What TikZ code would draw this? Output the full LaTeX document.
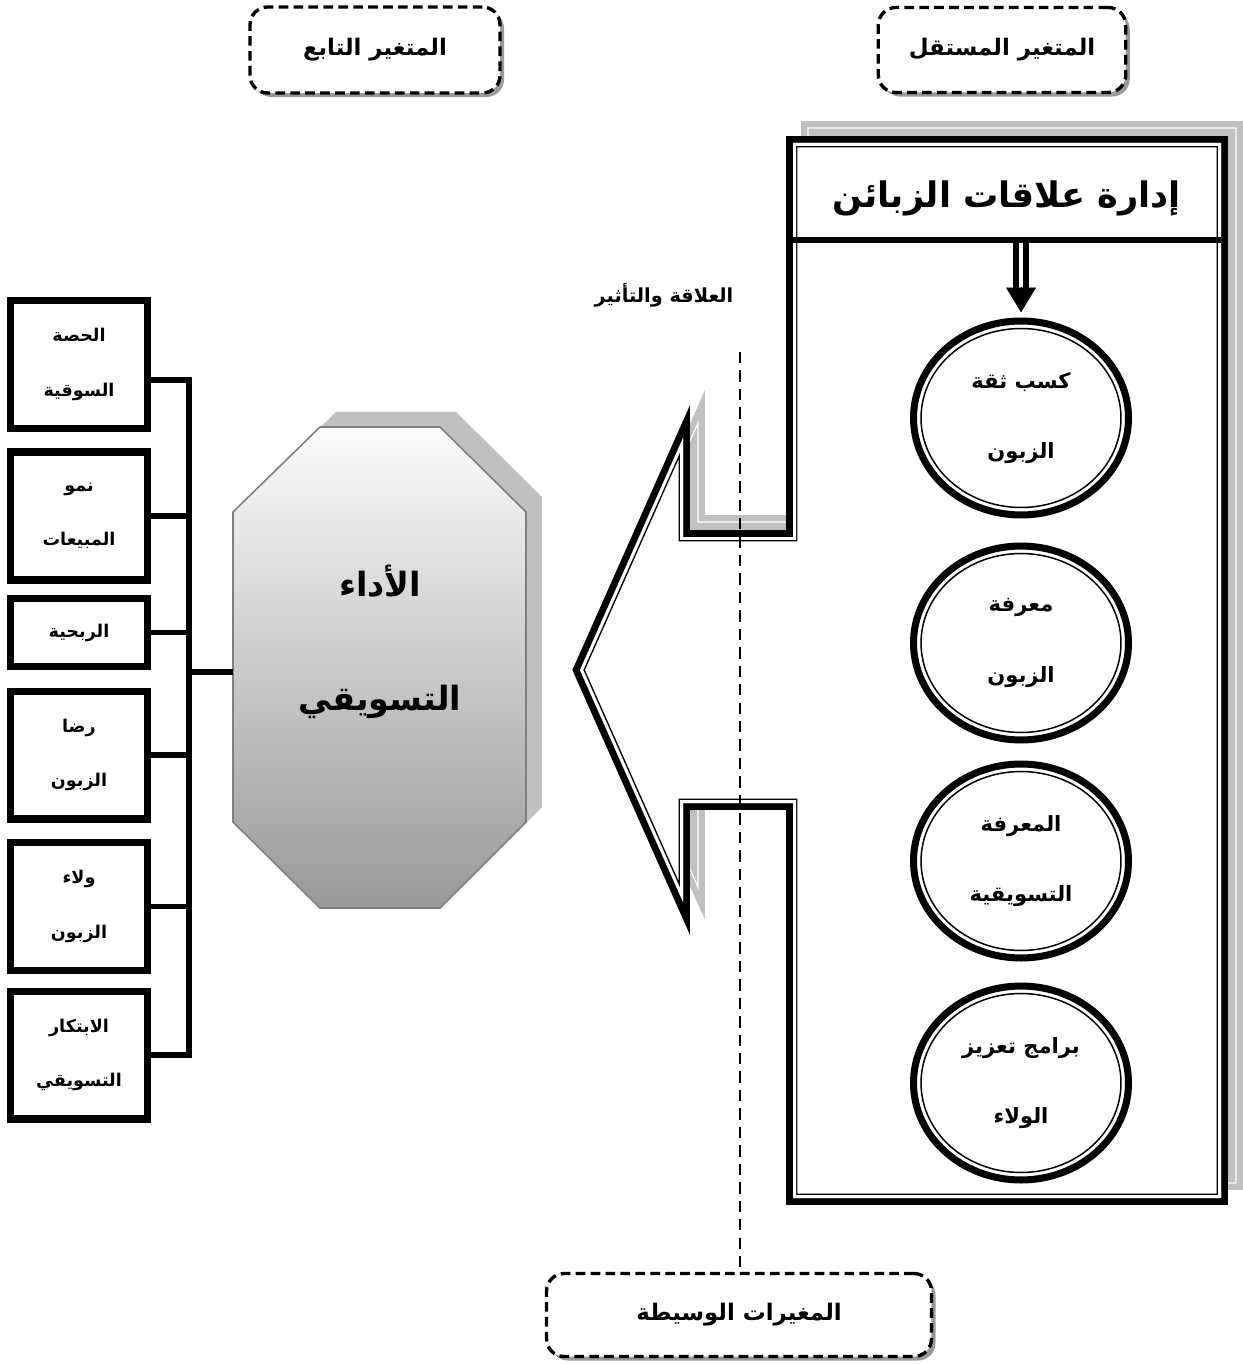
\documentclass[tikz,border=0pt]{standalone}
\usepackage{fontspec}
\newfontfamily\arabicfont[Script=Arabic]{DejaVu Sans}
\TeXXeTstate=1
\newcommand{\artxt}[1]{\beginR#1\endR}
\definecolor{shadowgray}{HTML}{C0C0C0}
\definecolor{octtop}{HTML}{FBFBFB}
\definecolor{octbot}{HTML}{999999}
\definecolor{octline}{HTML}{7F7F7F}
\usetikzlibrary{shapes.geometric, shadows, arrows.meta, calc}

% outline of the independent-variable frame (arrow pointing left)
\def\crmframe{(793,143) -- (1221,143) -- (1221,1198) -- (793,1198) -- (793,803) -- (683,803) -- (683,902) -- (580,670) -- (683,438) -- (683,537) -- (793,537) -- cycle}
\def\octagon{(320,427) -- (440,427) -- (526,512) -- (526,822) -- (440,908) -- (320,908) -- (233,822) -- (233,512) -- cycle}

\begin{document}
\begin{tikzpicture}[x=0.02cm, y=-0.02cm,
  varbox/.style={draw, line width=1.9pt, dash pattern=on 5.5pt off 3pt, rounded corners=10pt,
                 fill=white, drop shadow={shadow xshift=2.3pt, shadow yshift=-2.3pt, fill=black!40, opacity=1},
                 align=center, font=\arabicfont\bfseries\fontsize{13}{16}\selectfont},
  dimbox/.style={draw, line width=4pt, minimum width=2.74cm, align=center,
                 font=\arabicfont\bfseries\fontsize{10}{31}\selectfont},
  ring/.style={ellipse, draw, line width=4pt, fill=white, minimum width=4.3cm, minimum height=3.88cm,
               align=center, font=\arabicfont\bfseries\fontsize{12}{40}\selectfont},
  link/.style={line width=3.4pt},
  guide/.style={line width=1.3pt, dash pattern=on 6.5pt off 4pt}]
  \useasboundingbox (0,0) rectangle (1242,1364);

  % variable labels
  \node[varbox, minimum width=4.95cm, minimum height=1.7cm] (indep) at (1002,50) {\artxt{المتغير المستقل}};
  \node[varbox, minimum width=5.0cm, minimum height=1.72cm] (dep) at (375,50) {\artxt{المتغير التابع}};
  \node[varbox, minimum width=7.7cm, minimum height=1.66cm] (med) at (739,1315) {\artxt{المغيرات الوسيطة}};

  % frame with shadow
  \begin{scope}[shift={(15,-15)}]
    \filldraw[shadowgray, line width=7.94pt] \crmframe;
    \draw[white, line width=0.7pt] \crmframe;
  \end{scope}
  \draw[line width=7.94pt] \crmframe;
  \begin{scope}
    \clip \crmframe;
    \fill[white] \crmframe;
    \draw[line width=5.1pt] \crmframe;
    \draw[white, line width=3.4pt] \crmframe;
  \end{scope}
  \draw[line width=3.4pt] (793,240) -- (1221,240);
  \node[font=\arabicfont\bfseries\fontsize{20}{24}\selectfont] (crm) at (1007,198) {\artxt{إدارة علاقات الزبائن}};
  \coordinate (hdr) at (1021,243);

  % dimensions of CRM
  \foreach \n/\yy/\txt in {c1/418/{\artxt{كسب ثقة}\\\artxt{الزبون}},
                           c2/643/{\artxt{معرفة}\\\artxt{الزبون}},
                           c3/861/{\artxt{المعرفة}\\\artxt{التسويقية}},
                           c4/1083/{\artxt{برامج تعزيز}\\\artxt{الولاء}}}{
    \node[ring] (\n) at (1021,\yy) {\txt};
    \draw[line width=0.85pt] (\n.center) ellipse [x radius=2cm, y radius=1.79cm];
  }
  \draw[line width=3.4pt, double=white, double distance=2.3pt] (hdr) -- ($(c1.north)+(0,-28)$);
  \draw[line width=0.2pt, -{Triangle[length=14pt, width=17pt]}, shorten >=3pt] ($(c1.north)+(0,-31)$) -- (c1.north);

  % marketing performance
  \fill[shadowgray, shift={(16,-15)}] \octagon;
  \shade[top color=octtop, bottom color=octbot, draw=octline, line width=0.9pt] \octagon;
  \node[align=center, font=\arabicfont\bfseries\fontsize{19}{65}\selectfont] (perf) at (380,642) {\artxt{الأداء}\\\artxt{التسويقي}};
  \coordinate (octL) at (233,672);

  % dimensions of performance
  \foreach \n/\yy/\hh/\txt in {b1/364.5/2.56/{\artxt{الحصة}\\\artxt{السوقية}},
                               b2/516/2.56/{\artxt{نمو}\\\artxt{المبيعات}},
                               b3/632.5/1.36/{\artxt{الربحية}},
                               b4/755/2.56/{\artxt{رضا}\\\artxt{الزبون}},
                               b5/906.5/2.56/{\artxt{ولاء}\\\artxt{الزبون}},
                               b6/1055/2.56/{\artxt{الابتكار}\\\artxt{التسويقي}}}{
    \node[dimbox, minimum height=\hh cm] (\n) at (79,\yy) {\txt};
  }
  \coordinate (bt) at (189,380);
  \coordinate (bb) at (189,1055);
  \draw[link] (b1.east |- bt) -- (bt) -- (bb) -- (b6.east);
  \foreach \n in {b2,b3,b4,b5}
    \draw[link] (\n.east) -- (\n.east -| bt);
  \draw[link] (bt |- octL) -- (octL);

  % relation line
  \node[font=\arabicfont\bfseries\fontsize{11}{13}\selectfont] (rel) at (664,295) {\artxt{العلاقة والتأثير}};
  \coordinate (relTop) at (740,352);
  \draw[guide] (relTop) -- (relTop |- med.north);
\end{tikzpicture}
\end{document}
